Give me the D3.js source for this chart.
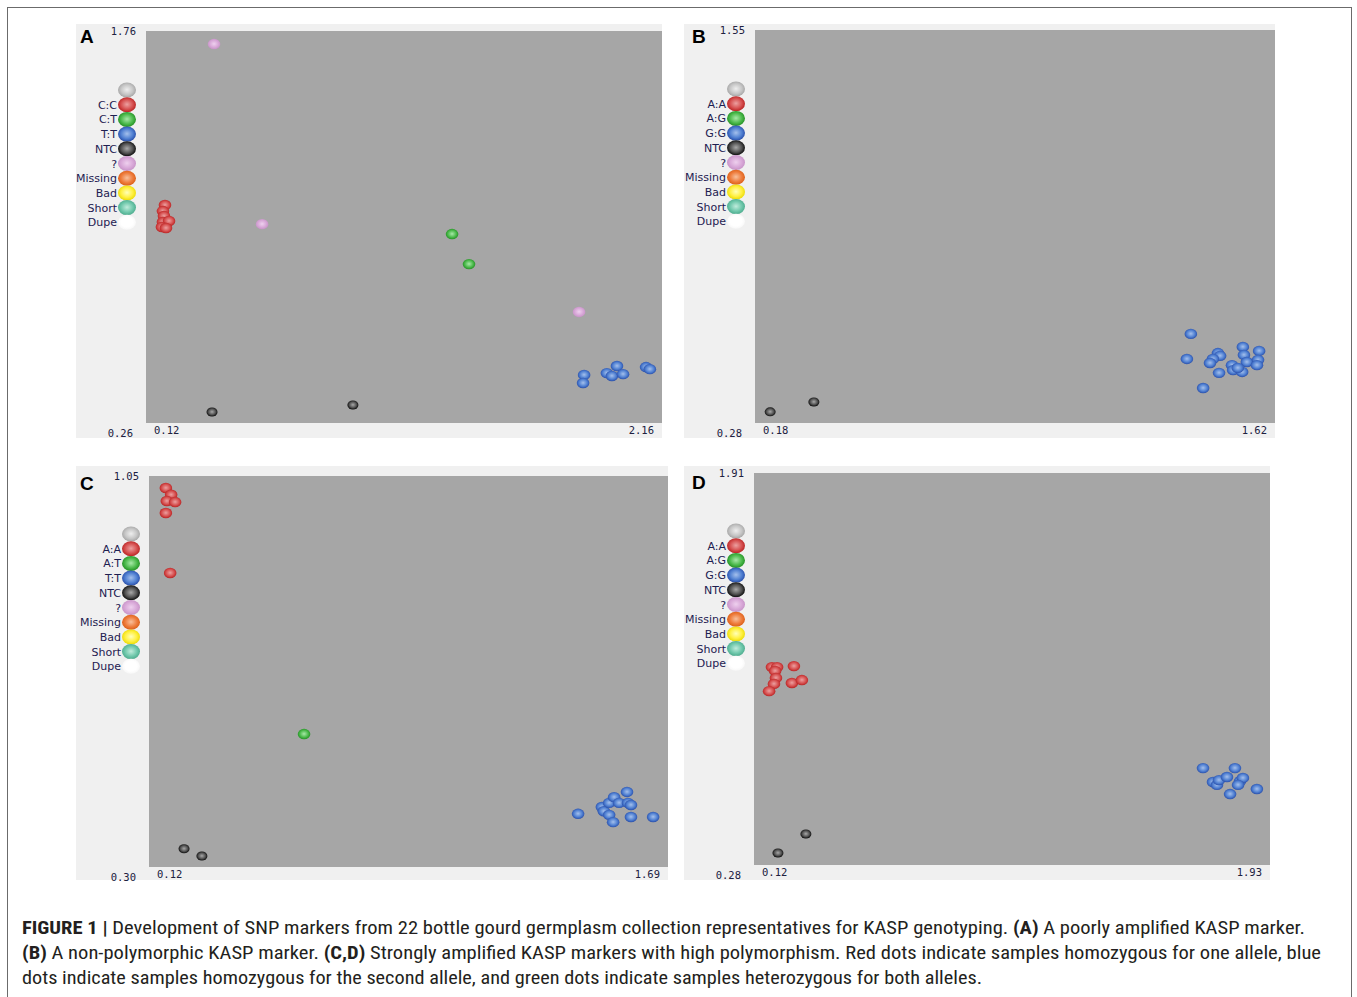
<!DOCTYPE html>
<html><head><meta charset="utf-8">
<script src="https://cdn.jsdelivr.net/npm/d3@7"></script>
<style>body{margin:0;background:#fff}svg{display:block}</style>
</head><body>
<script>
// ---------- data ----------
const panelLetters = ["A","B","C","D"];
const xDomains = [[0.12,2.16],[0.18,1.62],[0.12,1.69],[0.12,1.93]];
const yDomains = [[0.26,1.76],[0.28,1.55],[0.30,1.05],[0.28,1.91]];
const genotypeLabels = [["C:C","C:T","T:T"],["A:A","A:G","G:G"],["A:A","A:T","T:T"],["A:A","A:G","G:G"]];
const extraLabels = ["NTC","?","Missing","Bad","Short","Dupe"];

// Panel A
const aAllele1 = [[0.195,1.094],[0.187,1.071],[0.191,1.052],[0.187,1.029],[0.211,1.033],[0.183,1.010],[0.199,1.006]];
const aHet = [[1.330,0.983],[1.397,0.868]];
const aAllele2 = [[1.852,0.444],[1.848,0.413],[1.942,0.451],[1.962,0.440],[1.982,0.478],[2.006,0.447],[2.097,0.474],[2.112,0.466]];
const aNTC = [[0.381,0.302],[0.938,0.329]];
const aUnknown = [[0.389,1.710],[0.579,1.021],[1.832,0.685]];
// Panel B
const bAllele1 = [];
const bHet = [];
const bAllele2 = [[1.387,0.568],[1.376,0.487],[1.421,0.393],[1.462,0.506],[1.468,0.497],[1.448,0.487],[1.440,0.474],[1.465,0.442],[1.501,0.467],[1.504,0.451],[1.529,0.445],[1.531,0.526],[1.534,0.500],[1.542,0.477],[1.576,0.513],[1.573,0.484],[1.570,0.467],[1.517,0.458]];
const bNTC = [[0.222,0.316],[0.343,0.348]];
const bUnknown = [];
// Panel C
const cAllele1 = [[0.171,1.027],[0.187,1.014],[0.174,1.002],[0.199,1.000],[0.171,0.979],[0.184,0.864]];
const cHet = [[0.589,0.555]];
const cAllele2 = [[1.418,0.402],[1.490,0.415],[1.496,0.407],[1.512,0.423],[1.527,0.434],[1.542,0.423],[1.566,0.444],[1.569,0.423],[1.578,0.419],[1.512,0.400],[1.524,0.386],[1.578,0.396],[1.645,0.396]];
const cNTC = [[0.226,0.335],[0.280,0.321]];
const cUnknown = [];
// Panel D
const dAllele1 = [[0.183,1.103],[0.201,1.103],[0.194,1.087],[0.197,1.058],[0.190,1.033],[0.173,1.003],[0.260,1.107],[0.253,1.037],[0.288,1.049]];
const dHet = [];
const dAllele2 = [[1.695,0.683],[1.807,0.683],[1.730,0.625],[1.744,0.613],[1.751,0.633],[1.779,0.646],[1.825,0.629],[1.835,0.642],[1.818,0.613],[1.790,0.575],[1.884,0.596]];
const dNTC = [[0.302,0.409],[0.204,0.330]];
const dUnknown = [];

const captionLines = [
  [["FIGURE 1 | ",true],["Development of SNP markers from 22 bottle gourd germplasm collection representatives for KASP genotyping. ",false],["(A)",true],[" A poorly amplified KASP marker.",false]],
  [["(B)",true],[" A non-polymorphic KASP marker. ",false],["(C,D)",true],[" Strongly amplified KASP markers with high polymorphism. Red dots indicate samples homozygous for one allele, blue",false]],
  [["dots indicate samples homozygous for the second allele, and green dots indicate samples heterozygous for both alleles.",false]]
];

// ---------- layout / style ----------
const layout = [
  {bg:[76,24,662,438], plot:[146,31,662,423], letter:[80,43], legX:127, legY:90},
  {bg:[684,24,1275,438], plot:[755,30,1275,423], letter:[692,43], legX:736, legY:89},
  {bg:[76,466,668,880], plot:[149,476,668,867], letter:[80,490], legX:131, legY:534},
  {bg:[684,466,1270,880], plot:[754,473,1270,865], letter:[692,489], legX:736, legY:531}
];
const series = [
  [aAllele1,aHet,aAllele2,aNTC,aUnknown],
  [bAllele1,bHet,bAllele2,bNTC,bUnknown],
  [cAllele1,cHet,cAllele2,cNTC,cUnknown],
  [dAllele1,dHet,dAllele2,dNTC,dUnknown]
];
const styles = {
  gray:  ["#eeeeee","#c6c6c6","#a0a0a0"],
  red:   ["#eca0a0","#d65050","#b41c1c"],
  green: ["#a8e8a8","#4cba4c","#1e8a1e"],
  blue:  ["#a4c0ec","#5080d2","#2448a4"],
  black: ["#a8a8a8","#505050","#000000"],
  pink:  ["#eed0ee","#d8a8d8","#c490c4"],
  orange:["#f8c09c","#ee7c3c","#d85c14"],
  yellow:["#ffffb8","#fff040","#e8d800"],
  teal:  ["#c0ecdc","#70c8ac","#48a88a"],
  white: ["#ffffff","#ffffff","#f6f6f6"]
};
const legendColors = ["gray","red","green","blue","black","pink","orange","yellow","teal","white"];
const seriesColors = ["red","green","blue","black","pink"];

const W = 1357, H = 997;
const svg = d3.select("body").append("svg").attr("width",W).attr("height",H);
const defs = svg.append("defs");
Object.entries(styles).forEach(([k,c])=>{
  const g = defs.append("radialGradient").attr("id","g_"+k).attr("cx","50%").attr("cy","48%").attr("r","55%");
  g.append("stop").attr("offset","0%").attr("stop-color",c[0]);
  g.append("stop").attr("offset","60%").attr("stop-color",c[1]);
  g.append("stop").attr("offset","100%").attr("stop-color",c[2]);
});

// outer border
svg.append("rect").attr("x",7.5).attr("y",7.5).attr("width",1344).attr("height",1000)
  .attr("fill","none").attr("stroke","#6b6b6b").attr("stroke-width",1);

const fmt = d3.format(".2f");
const tickFont = "'DejaVu Sans Mono', monospace";

layout.forEach((L,i)=>{
  const g = svg.append("g");
  const [bx0,by0,bx1,by1] = L.bg;
  g.append("rect").attr("x",bx0).attr("y",by0).attr("width",bx1-bx0).attr("height",by1-by0).attr("fill","#f0f0f0");
  const [px0,py0,px1,py1] = L.plot;
  g.append("rect").attr("x",px0).attr("y",py0).attr("width",px1-px0).attr("height",py1-py0).attr("fill","#a6a6a6");
  const x = d3.scaleLinear().domain(xDomains[i]).range([px0,px1]);
  const y = d3.scaleLinear().domain(yDomains[i]).range([py1,py0]);

  g.append("text").attr("x",L.letter[0]).attr("y",L.letter[1]).text(panelLetters[i])
    .attr("font-family","'Liberation Sans', Arial, sans-serif").attr("font-weight","bold").attr("font-size",19).attr("fill","#000");

  const tick = (tx,ty,txt,anchor)=>g.append("text").attr("x",tx).attr("y",ty).text(txt)
      .attr("font-family",tickFont).attr("font-size",10.5).attr("fill","#202040").attr("text-anchor",anchor);
  tick(px0-10, y(yDomains[i][1])+4, fmt(yDomains[i][1]), "end");
  tick(px0-13, y(yDomains[i][0])+14, fmt(yDomains[i][0]), "end");
  tick(x(xDomains[i][0])+8, py1+11, fmt(xDomains[i][0]), "start");
  tick(x(xDomains[i][1])-8, py1+11, fmt(xDomains[i][1]), "end");

  const labels = [""].concat(genotypeLabels[i], extraLabels);
  labels.forEach((lab,j)=>{
    const cy = L.legY + j*14.7;
    g.append("ellipse").attr("cx",L.legX).attr("cy",cy).attr("rx",9).attr("ry",7.5)
      .attr("fill","url(#g_"+legendColors[j]+")");
    if(lab) g.append("text").attr("x",L.legX-10).attr("y",cy+4).text(lab)
      .attr("font-family","'DejaVu Sans', Verdana, sans-serif").attr("font-size",11)
      .attr("fill","#1e2050").attr("text-anchor","end");
  });

  series[i].forEach((pts,s)=>{
    const col = seriesColors[s];
    g.selectAll(null).data(pts).enter().append("ellipse")
      .attr("cx",d=>x(d[0])).attr("cy",d=>y(d[1]))
      .attr("rx",col==="black"?5.5:6.3).attr("ry",col==="black"?4.5:5.2)
      .attr("fill","url(#g_"+col+")");
  });
});

const capY = [934, 959, 984];
const capW = [1283, 1299, 960];
captionLines.forEach((line,k)=>{
  const t = svg.append("text").attr("x",22).attr("y",capY[k])
    .attr("font-family","'Liberation Sans Narrow','Roboto Condensed','Liberation Sans',Arial,sans-serif")
    .attr("font-size",17.5).attr("fill","#231f20")
    .attr("textLength",capW[k]).attr("lengthAdjust","spacingAndGlyphs");
  line.forEach(([txt,b])=>t.append("tspan").text(txt).attr("font-weight",b?"bold":"normal"));
});
</script>
</body></html>
